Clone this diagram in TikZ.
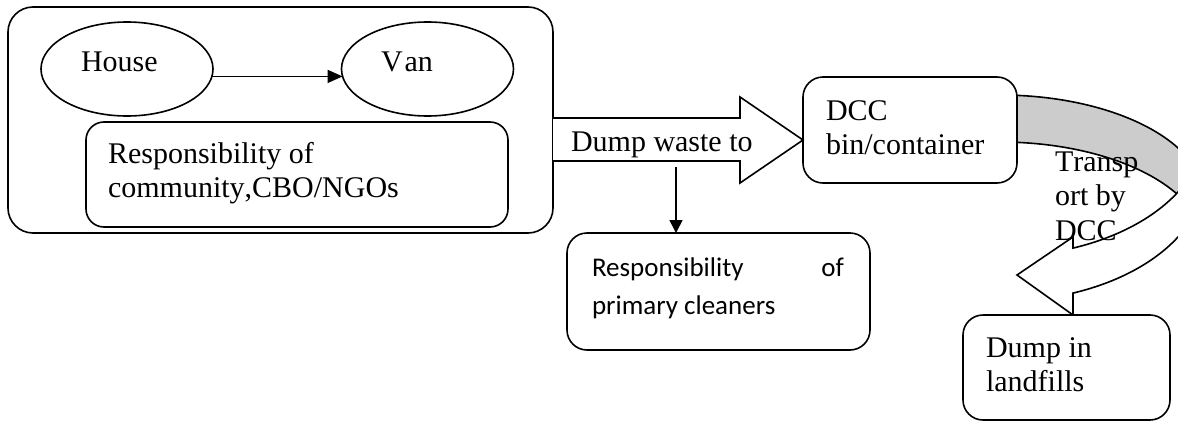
\documentclass[tikz,border=0pt]{standalone}
\usepackage{fontspec}
\setmainfont{Liberation Serif}[Kerning=Off]
\newfontfamily\calfont{Carlito}
\usetikzlibrary{shapes.geometric,arrows.meta}
\newcommand\tnr{\fontsize{30}{34.5}\selectfont}
\newcommand\ctnr{\calfont\fontsize{27}{38}\selectfont}
\begin{document}
\begin{tikzpicture}[x=1pt,y=-1pt,
  lw/.style={line width=1.6pt},
  rbox/.style={draw, lw, fill=white, rectangle, rounded corners=#1, inner sep=0pt, outer sep=0pt},
  oval/.style={draw, lw, ellipse, inner sep=0pt, outer sep=0pt, minimum width=172pt, minimum height=94pt},
  txt/.style={anchor=base west, inner sep=0pt, outer sep=0pt, font=\tnr},
  ctxt/.style={anchor=base west, inner sep=0pt, outer sep=0pt, font=\ctnr},
  arr/.style={lw, -{Triangle[length=15pt,width=13pt]}},
  blockarrow/.style={draw, lw, fill=white, line join=miter},
  backband/.style={draw, lw, fill=gray!40, line join=miter},
]
\useasboundingbox (0,0) rectangle (1178,423);

% left group
\node[rbox=25pt, minimum width=545pt, minimum height=226pt] (outer) at (280.5,120) {};
\node[oval] (house) at (127,69) {};
\node[oval] (van) at (427.5,69) {};
\node[txt] (houset) at (81,71) {House};
\node[txt] (vant) at (381,71) {V\kern2pt an};
\draw[arr] (house.-5) -- (van.185);
\node[rbox=18pt, minimum width=422pt, minimum height=105pt] (comm) at (297,174.5) {};
\node[txt] (commt) at (108,163) {\vtop{\hbox{Responsibility of}\hbox{community,CBO/NGOs}}};

% DCC box and curved arrow
\begin{scope}
\clip (0,0) rectangle (1178,423);
\path[backband] plot[domain=-90:0, samples=50] ({1000+205*cos(\x)},{200+105*sin(\x)})
   -- plot[domain=0:90, samples=50] ({1000+205*cos(-\x)},{247+105*sin(-\x)}) -- cycle;
\coordinate (ctip) at (1017,275);
\path[blockarrow] plot[domain=0:69.14, samples=50] ({1000+205*cos(\x)},{128.5+128*sin(\x)})
   -- (1073,237) -- (ctip) -- (1073,315)
   -- plot[domain=0:69.14, samples=50] ({1000+205*cos(69.14-\x)},{173.5+128*sin(69.14-\x)}) -- cycle;
\end{scope}
\node[rbox=20pt, minimum width=214pt, minimum height=106pt] (dcc) at (910,130) {};
\node[txt] (dcct) at (826,120) {\vtop{\hbox{DCC}\hbox{bin/container}}};

% dump waste block arrow
\coordinate (s1) at (outer.east |- 0,118);
\coordinate (s2) at (outer.east |- 0,161);
\coordinate (dtip) at (dcc.west |- 0,140);
\path[blockarrow] (s1) -- (740,118) -- (740,97) -- (dtip) -- (740,183) -- (740,161) -- (s2);
\node[txt] (dumpt) at (571,151) {Dump waste to};

% primary cleaners
\node[rbox=20pt, minimum width=303pt, minimum height=117pt] (prim) at (718.5,291.5) {};
\node[ctxt] (primt) at (592,276) {\vtop{\hbox to 252pt{Responsibility\hfill of}\hbox{primary cleaners}}};
\coordinate (dw) at (676,167);
\draw[lw, -{Triangle[length=13pt,width=13pt]}] (dw) -- (dw |- prim.north);

% landfills
\node[rbox=20pt, minimum width=207pt, minimum height=105pt] (land) at (1066.5,367.5) {};
\node[txt] (landt) at (986,357) {\vtop{\hbox{Dump in}\hbox{landfills}}};

% transport label
\node[txt] (transt) at (1055,171) {\vtop{\hbox{Transp}\hbox{ort by}\hbox{DCC}}};
\end{tikzpicture}
\end{document}
